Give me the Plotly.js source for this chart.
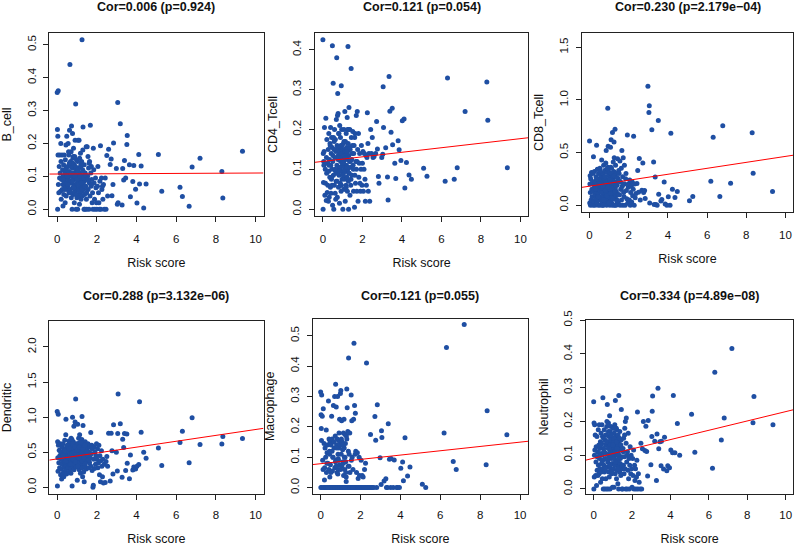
<!DOCTYPE html>
<html><head><meta charset="utf-8">
<script src="https://cdn.plot.ly/plotly-3.0.1.min.js"></script>
<style>html,body{margin:0;padding:0;background:#fff}#chart{width:795px;height:548px}</style>
</head><body><div id="chart"></div>
<script>
// Shared risk score (x) for every sample
const riskScore = [
 0.00,0.01,0.02,0.03,0.04,0.05,0.06,0.08,0.10,0.12,0.13,0.15,
 0.17,0.18,0.19,0.20,0.22,0.24,0.25,0.27,0.28,0.29,0.30,0.32,0.33,0.35,0.36,0.38,0.39,0.40,0.41,0.42,0.43,0.44,0.45,0.46,0.47,0.48,0.49,0.50,
 0.52,0.53,0.55,0.56,0.58,0.59,0.60,0.62,0.63,0.64,0.66,0.67,0.68,0.70,0.71,0.72,0.73,0.75,0.76,0.77,0.78,0.79,0.80,0.81,0.82,0.83,0.84,0.85,0.86,0.87,0.88,0.89,0.90,0.91,0.92,0.93,0.94,0.95,0.96,0.97,0.98,0.99,0.65,0.74,0.69,0.57,0.86,0.93,0.88,0.79,
 1.01,1.02,1.03,1.04,1.05,1.06,1.07,1.08,1.09,1.10,1.11,1.12,1.13,1.14,1.15,1.16,1.17,1.18,1.19,1.20,1.21,1.22,1.23,1.24,1.25,1.26,1.27,1.28,1.29,1.30,1.31,1.32,1.33,1.35,1.36,1.37,1.38,1.40,1.41,1.43,1.44,1.46,1.47,1.49,1.04,1.12,1.18,1.23,1.28,1.09,
 1.51,1.53,1.55,1.56,1.58,1.60,1.62,1.63,1.65,1.67,1.69,1.70,1.72,1.74,1.76,1.78,1.80,1.82,1.84,1.86,1.88,1.90,1.93,1.95,1.98,
 2.00,2.03,2.05,2.08,2.10,2.13,2.15,2.18,2.20,2.23,2.25,2.28,2.30,2.33,2.37,
 2.42,2.46,2.50,2.54,2.59,2.67,2.72,2.76,2.81,2.84,2.98,3.03,3.05,3.07,3.18,3.27,3.30,3.35,3.39,3.45,3.51,3.53,3.64,3.69,3.81,3.86,3.95,4.02,4.11,4.15,4.23,4.36,4.48,5.10,5.27,6.19,6.31,6.65,6.80,7.20,8.30,8.35,9.34,
 0.31,0.37,0.44,0.51,0.54,0.61,0.67,0.72,0.77,0.81,0.84,0.89,0.92,0.96,1.00,1.03,1.07,1.11,1.14,1.19,1.22,1.26,1.31,1.34,1.39,1.42,1.48,1.54,1.61,1.73
];
const bCell = [
 0.355,0.242,0.0,0.222,0.165,0.36,0.075,0.05,0.13,0.095,0.165,0.11,
 0.055,0.2,0.145,0.03,0.09,0.165,0.06,0.12,0.075,0.01,0.1,0.135,0.045,0.165,0.085,0.07,0.11,0.02,0.15,0.065,0.095,0.195,0.04,0.125,0.08,0.222,0.105,0.06,
 0.13,0.07,0.2,0.09,0.165,0.05,0.115,0.24,0.085,0.44,0.06,0.145,0.1,0.175,0.035,0.253,0.08,0.0,0.125,0.23,0.065,0.155,0.095,0.045,0.185,0.11,0.07,0.135,0.02,0.09,0.16,0.055,0.21,0.105,0.075,0.32,0.12,0.0,0.06,0.15,0.095,0.035,0.08,0.11,0.13,0.175,0.05,0.1,0.07,0.14,
 0.08,0.145,0.0,0.06,0.21,0.1,0.04,0.125,0.075,0.21,0.09,0.015,0.155,0.065,0.11,0.05,0.17,0.085,0.13,0.03,0.1,0.07,0.145,0.055,0.515,0.09,0.04,0.12,0.18,0.25,0.075,0.1,0.06,0.0,0.135,0.085,0.045,0.0,0.11,0.07,0.09,0.19,0.03,0.0,0.115,0.065,0.095,0.14,0.08,0.06,
 0.19,0.1,0.16,0.06,0.125,0.0,0.08,0.145,0.04,0.255,0.11,0.07,0.13,0.09,0.02,0.05,0.0,0.185,0.12,0.08,0.03,0.0,0.095,0.065,0.02,
 0.0,0.07,0.13,0.05,0.02,0.0,0.085,0.193,0.0,0.095,0.06,0.07,0.03,0.075,0.0,
 0.095,0.0,0.163,0.04,0.182,0.136,0.153,0.041,0.075,0.201,0.124,0.015,0.324,0.02,0.26,0.013,0.124,0.089,0.148,0.095,0.197,0.224,0.135,0.038,0.084,0.133,0.061,0.019,0.166,0.077,0.131,0.004,0.077,0.166,0.055,0.067,0.039,0.009,0.128,0.155,0.115,0.034,0.176,
 0.09,0.06,0.12,0.1,0.075,0.14,0.05,0.11,0.085,0.16,0.065,0.1,0.13,0.045,0.09,0.12,0.075,0.055,0.1,0.135,0.08,0.06,0.115,0.095,0.07,0.105,0.05,0.09,0.14,0.075
];
const cd4Tcell = [
 0.425,0.0,0.14,0.067,0.12,0.11,0.145,0.205,0.035,0.1,0.065,0.228,
 0.022,0.13,0.09,0.175,0.042,0.115,0.06,0.15,0.02,0.095,0.19,0.03,0.125,0.08,0.165,0.055,0.205,0.11,0.04,0.14,0.075,0.18,0.1,0.06,0.155,0.41,0.01,0.12,
 0.316,0.085,0.0,0.15,0.06,0.2,0.13,0.04,0.175,0.095,0.145,0.07,0.225,0.38,0.11,0.16,0.03,0.29,0.1,0.24,0.135,0.055,0.19,0.125,0.085,0.15,0.015,0.21,0.1,0.14,0.065,0.18,0.12,0.16,0.045,0.31,0.095,0.2,0.13,0.075,0.15,0.11,0.025,0.235,0.09,0.17,0.14,0.06,0.105,0.155,
 0.0,0.14,0.09,0.165,0.12,0.05,0.2,0.105,0.15,0.075,0.245,0.13,0.02,0.17,0.095,0.14,0.06,0.19,0.11,0.155,0.08,0.125,0.23,0.045,0.145,0.1,0.408,0.165,0.07,0.0,0.135,0.255,0.09,0.12,0.2,0.035,0.15,0.105,0.06,0.353,0.18,0.125,0.085,0.16,0.115,0.145,0.055,0.13,0.2,0.095,
 0.195,0.11,0.045,0.14,0.16,0.005,0.085,0.19,0.065,0.12,0.235,0.1,0.045,0.245,0.15,0.02,0.19,0.08,0.115,0.14,0.065,0.045,0.1,0.16,0.06,
 0.115,0.145,0.045,0.1,0.14,0.075,0.02,0.135,0.06,0.13,0.242,0.165,0.045,0.14,0.02,
 0.2,0.14,0.18,0.13,0.132,0.14,0.22,0.151,0.082,0.065,0.13,0.138,0.307,0.205,0.154,0.081,0.023,0.333,0.246,0.193,0.253,0.162,0.115,0.077,0.172,0.149,0.122,0.222,0.226,0.053,0.117,0.086,0.075,0.103,0.083,0.07,0.329,0.075,0.104,0.245,0.319,0.223,0.104,
 0.11,0.16,0.08,0.135,0.18,0.1,0.15,0.07,0.125,0.19,0.095,0.14,0.06,0.16,0.115,0.085,0.17,0.13,0.05,0.145,0.105,0.2,0.09,0.155,0.12,0.075,0.14,0.1,0.18,0.12
];
const cd8Tcell = [
 0.61,0.02,0.2,0.28,0.12,0.0,0.25,0.05,0.31,0.15,0.08,0.22,
 0.3,0.0,0.13,0.46,0.04,0.19,0.32,0.1,0.0,0.23,0.16,0.06,0.27,0.12,0.57,0.02,0.2,0.34,0.09,0.15,0.25,0.0,0.11,0.3,0.05,0.18,0.22,0.08,
 0.14,0.35,0.0,0.24,0.07,0.28,0.18,0.43,0.03,0.21,0.12,0.3,0.0,0.26,0.09,0.38,0.16,0.05,0.22,0.33,0.11,0.19,0.02,0.27,0.14,0.4,0.08,0.52,0.2,0.0,0.24,0.13,0.31,0.06,0.17,0.92,0.36,0.56,0.1,0.21,0.03,0.28,0.15,0.25,0.0,0.19,0.12,0.34,0.07,0.23,
 0.2,0.08,0.31,0.0,0.15,0.26,0.55,0.04,0.22,0.62,0.12,0.35,0.02,0.18,0.29,0.1,0.69,0.0,0.24,0.14,0.41,0.06,0.2,0.32,0.6,0.45,0.11,0.0,0.27,0.72,0.16,0.08,0.38,0.0,0.22,0.13,0.3,0.05,0.19,0.44,0.1,0.25,0.02,0.33,0.15,0.07,0.28,0.12,0.21,0.36,
 0.3,0.1,0.42,0.0,0.22,0.15,0.35,0.05,0.52,0.18,0.27,0.0,0.45,0.12,0.08,0.38,0.2,0.0,0.25,0.3,0.14,0.06,0.666,0.02,0.17,
 0.2,0.05,0.24,0.0,0.12,0.18,0.03,0.22,0.09,0.15,0.654,0.0,0.2,0.07,0.11,
 0.205,0.328,0.123,0.442,0.05,0.142,0.4,0.12,0.14,0.063,1.13,0.88,0.944,0.02,0.717,0.41,0.006,0.268,0.006,0.0,0.805,0.104,0.04,0.054,0.221,0.01,0.0,0.079,0.0,0.682,0.152,0.073,0.129,0.041,0.082,0.227,0.644,0.082,0.755,0.208,0.688,0.303,0.129,
 0.15,0.25,0.08,0.2,0.32,0.12,0.18,0.05,0.27,0.14,0.22,0.09,0.35,0.17,0.02,0.24,0.11,0.3,0.16,0.06,0.21,0.28,0.13,0.19,0.04,0.26,0.1,0.23,0.15,0.2
];
const dendritic = [
 1.08,0.02,0.65,0.42,0.23,1.04,0.6,0.35,0.53,0.28,0.45,0.62,
 0.18,0.5,0.26,0.4,0.12,0.57,0.33,0.46,0.2,0.62,0.38,0.52,0.15,0.44,0.29,0.67,0.36,0.48,0.24,0.55,0.75,0.97,0.31,0.42,0.19,0.58,0.35,0.47,
 0.4,0.6,0.28,0.5,0.35,0.66,0.22,0.45,0.55,0.32,0.48,0.62,0.38,0.7,0.27,0.52,0.43,0.02,0.58,1.0,0.36,0.5,0.3,0.65,0.45,0.55,0.87,0.25,0.6,0.4,0.5,0.33,0.93,0.45,0.57,1.26,0.38,0.62,0.29,0.48,0.53,0.42,0.35,0.68,0.2,0.56,0.44,0.6,0.37,0.47,
 0.1,0.55,0.9,0.38,0.62,0.3,0.48,0.7,0.42,0.58,0.25,0.5,0.75,0.35,0.64,0.45,0.2,0.55,0.4,0.6,0.32,0.52,0.47,0.68,1.01,0.28,0.57,0.43,0.62,0.88,0.37,0.5,0.22,0.6,0.08,0.45,0.55,0.3,0.65,0.4,0.52,0.26,0.58,0.46,0.35,0.63,0.42,0.54,0.15,0.5,
 0.55,0.38,0.62,0.45,0.28,0.6,0.5,0.35,0.58,0.42,0.78,0.3,0.48,0.6,0.24,0.55,0.0,0.03,0.4,0.58,0.27,0.5,0.33,0.45,0.62,
 0.4,0.55,0.28,0.35,0.6,0.18,0.45,0.08,0.38,0.52,0.3,0.15,0.4,0.06,0.33,
 0.07,0.367,0.44,0.3,0.77,0.09,0.77,0.52,0.19,0.89,0.5,0.233,0.767,1.33,0.905,0.143,0.686,0.567,0.767,0.24,0.76,0.343,0.124,0.462,0.248,0.29,0.262,0.3,0.324,1.22,0.786,0.5,0.414,0.562,0.31,0.638,0.8,0.352,0.99,0.61,0.619,0.724,0.695,
 0.45,0.52,0.38,0.6,0.42,0.55,0.33,0.48,0.62,0.4,0.5,0.58,0.36,0.47,0.53,0.3,0.44,0.57,0.41,0.64,0.49,0.37,0.55,0.43,0.6,0.34,0.51,0.46,0.39,0.56
];
const macrophage = [
 0.315,0.0,0.24,0.195,0.155,0.305,0.0,0.235,0.09,0.06,0.26,0.0,
 0.145,0.0,0.025,0.065,0.13,0.0,0.1,0.0,0.19,0.05,0.0,0.115,0.14,0.0,0.08,0.0,0.285,0.0,0.06,0.16,0.0,0.11,0.0,0.035,0.15,0.0,0.075,0.0,
 0.14,0.0,0.235,0.0,0.16,0.055,0.0,0.1,0.0,0.27,0.0,0.13,0.0,0.3,0.065,0.0,0.17,0.34,0.0,0.09,0.265,0.0,0.14,0.0,0.05,0.16,0.0,0.3,0.0,0.11,0.0,0.06,0.155,0.0,0.13,0.0,0.075,0.225,0.0,0.15,0.0,0.31,0.0,0.085,0.0,0.12,0.045,0.0,0.095,0.0,
 0.32,0.0,0.14,0.0,0.22,0.07,0.0,0.15,0.0,0.125,0.0,0.085,0.0,0.18,0.04,0.0,0.225,0.0,0.1,0.0,0.06,0.175,0.0,0.145,0.0,0.085,0.0,0.02,0.17,0.0,0.325,0.0,0.263,0.0,0.185,0.0,0.07,0.427,0.0,0.11,0.0,0.18,0.05,0.0,0.16,0.0,0.13,0.0,0.035,0.0,
 0.0,0.305,0.0,0.22,0.1,0.0,0.06,0.0,0.225,0.475,0.0,0.27,0.0,0.245,0.12,0.0,0.05,0.0,0.115,0.0,0.03,0.0,0.1,0.04,0.0,
 0.0,0.09,0.0,0.04,0.0,0.035,0.0,0.0,0.06,0.0,0.08,0.0,0.41,0.0,0.0,
 0.0,0.0,0.175,0.0,0.0,0.0,0.234,0.156,0.0,0.273,0.098,0.01,0.187,0.165,0.022,0.029,0.0,0.0,0.21,0.093,0.0,0.096,0.0,0.091,0.0,0.0,0.0,0.064,0.084,0.023,0.164,0.038,0.068,0.011,0.0,0.18,0.461,0.086,0.06,0.537,0.075,0.253,0.174,
 0.08,0.0,0.12,0.05,0.0,0.1,0.15,0.0,0.07,0.13,0.0,0.09,0.18,0.0,0.06,0.11,0.0,0.14,0.08,0.0,0.1,0.05,0.16,0.0,0.12,0.07,0.0,0.09,0.0,0.11
];
const neutrophil = [
 0.258,0.0,0.195,0.035,0.1,0.19,0.115,0.16,0.04,0.08,0.125,0.01,
 0.155,0.055,0.095,0.11,0.04,0.175,0.07,0.13,0.045,0.19,0.09,0.12,0.06,0.14,0.02,0.105,0.165,0.05,0.135,0.075,0.19,0.1,0.03,0.155,0.085,0.27,0.06,0.0,
 0.12,0.07,0.175,0.05,0.0,0.145,0.09,0.13,0.03,0.16,0.105,0.0,0.185,0.065,0.25,0.14,0.08,0.0,0.12,0.195,0.05,0.155,0.1,0.035,0.13,0.217,0.07,0.0,0.17,0.11,0.14,0.06,0.185,0.09,0.125,0.045,0.15,0.1,0.075,0.135,0.005,0.115,0.16,0.085,0.2,0.055,0.13,0.095,0.145,0.065,
 0.11,0.18,0.06,0.14,0.095,0.005,0.165,0.12,0.075,0.19,0.1,0.045,0.262,0.13,0.07,0.155,0.085,0.12,0.03,0.175,0.1,0.055,0.145,0.08,0.125,0.015,0.16,0.105,0.065,0.0,0.277,0.135,0.09,0.05,0.17,0.115,0.075,0.125,0.04,0.145,0.235,0.095,0.0,0.06,0.15,0.11,0.18,0.085,0.13,0.07,
 0.0,0.12,0.07,0.15,0.045,0.095,0.18,0.06,0.2,0.0,0.135,0.21,0.08,0.0,0.11,0.055,0.165,0.03,0.09,0.0,0.07,0.125,0.045,0.1,0.06,
 0.005,0.09,0.04,0.115,0.0,0.07,0.025,0.06,0.0,0.035,0.085,0.228,0.0,0.045,0.02,
 0.0,0.135,0.0,0.119,0.2,0.114,0.186,0.111,0.038,0.203,0.072,0.155,0.23,0.275,0.141,0.025,0.163,0.298,0.119,0.14,0.069,0.141,0.059,0.153,0.054,0.069,0.063,0.115,0.107,0.277,0.107,0.194,0.1,0.221,0.109,0.061,0.346,0.145,0.21,0.416,0.196,0.274,0.19,
 0.1,0.13,0.08,0.15,0.11,0.06,0.14,0.09,0.17,0.12,0.07,0.1,0.16,0.05,0.13,0.09,0.18,0.11,0.08,0.14,0.12,0.06,0.1,0.15,0.09,0.13,0.07,0.11,0.16,0.1
];

const cellTypes = ['B_cell','CD4_Tcell','CD8_Tcell','Dendritic','Macrophage','Neutrophil'];
const corLabels = ['Cor=0.006 (p=0.924)','Cor=0.121 (p=0.054)','Cor=0.230 (p=2.179e\u221204)',
                   'Cor=0.288 (p=3.132e\u221206)','Cor=0.121 (p=0.055)','Cor=0.334 (p=4.89e\u221208)'];
// regression line coefficients (intercept, slope)
const fitIntercept = [0.107, 0.120, 0.180, 0.405, 0.0787, 0.091];
const fitSlope     = [0.0003, 0.0057, 0.0283, 0.0419, 0.0071, 0.0138];
const xTickLabels = ['0','2','4','6','8','10'];
const yTickLabels = [
  ['0.0','0.1','0.2','0.3','0.4','0.5'],
  ['0.0','0.1','0.2','0.3','0.4'],
  ['0.0','0.5','1.0','1.5'],
  ['0.0','0.5','1.0','1.5','2.0'],
  ['0.0','0.1','0.2','0.3','0.4','0.5'],
  ['0.0','0.1','0.2','0.3','0.4','0.5']
];
const series = [bCell, cd4Tcell, cd8Tcell, dendritic, macrophage, neutrophil];

// layout geometry (pixels in a 795x548 canvas)
const W = 795, H = 548;
const boxes = [ // [left, right, top, bottom]
  [49.3, 263.5, 33, 216],
  [315, 528.3, 33, 216],
  [581.7, 793.3, 33, 212],
  [49.3, 263.5, 321, 494],
  [312.7, 528, 318.7, 494],
  [586, 793.3, 320, 494]
];
const yRanges = [[-0.0206, 0.5356], [-0.017, 0.442], [-0.065, 1.635], [-0.095, 2.37], [-0.021, 0.556], [-0.015, 0.5005]];
const xRange = [-0.4, 10.4];
const titleY = [7, 7, 7, 296, 296, 296];
const xLabelGap = [7, 7, 7, 5, 5, 5];

const font = 'Liberation Sans, Arial, sans-serif';
const traces = [];
const layout = {
  width: W, height: H, margin: {l:0, r:0, t:0, b:0},
  paper_bgcolor: '#fff', plot_bgcolor: '#fff', showlegend: false,
  font: {family: font, color: '#000'}, annotations: []
};
for (let i = 0; i < 6; i++) {
  const s = i === 0 ? '' : String(i + 1);
  const b = boxes[i];
  traces.push({
    type: 'scatter', mode: 'markers', x: riskScore, y: series[i],
    xaxis: 'x' + s, yaxis: 'y' + s, cliponaxis: true,
    marker: {size: 5, color: '#1f4fa3'}, hoverinfo: 'x+y'
  });
  traces.push({
    type: 'scatter', mode: 'lines',
    x: xRange, y: xRange.map(v => fitIntercept[i] + fitSlope[i] * v),
    xaxis: 'x' + s, yaxis: 'y' + s,
    line: {color: '#ff0000', width: 1}, hoverinfo: 'skip'
  });
  const common = {
    showline: true, mirror: true, linecolor: '#222', linewidth: 1,
    ticks: 'outside', ticklen: 5, tickcolor: '#222', tickwidth: 1,
    showgrid: false, zeroline: false, automargin: false,
    tickfont: {size: 11.5, color: '#111'}
  };
  layout['xaxis' + s] = Object.assign({}, common, {
    domain: [b[0] / W, b[1] / W], range: xRange, anchor: 'y' + s,
    tickmode: 'array', tickvals: xTickLabels.map(Number), ticktext: xTickLabels,
    ticklabelstandoff: xLabelGap[i],
    title: {text: 'Risk score', font: {size: 12.5, color: '#111'}, standoff: 14}
  });
  layout['yaxis' + s] = Object.assign({}, common, {
    domain: [1 - b[3] / H, 1 - b[2] / H], range: yRanges[i], anchor: 'x' + s,
    tickmode: 'array', tickvals: yTickLabels[i].map(Number), ticktext: yTickLabels[i],
    tickangle: -90, ticklabelstandoff: 3,
    title: {text: cellTypes[i], font: {size: 12.5, color: '#111'}, standoff: 11}
  });
  layout.annotations.push({
    xref: 'paper', yref: 'paper', x: (b[0] + b[1]) / 2 / W, y: 1 - titleY[i] / H,
    xanchor: 'center', yanchor: 'middle', showarrow: false,
    text: '<b>' + corLabels[i] + '</b>', font: {size: 12.5, color: '#111'}
  });
}
Plotly.newPlot('chart', traces, layout, {displayModeBar: false, staticPlot: true});
</script></body></html>
